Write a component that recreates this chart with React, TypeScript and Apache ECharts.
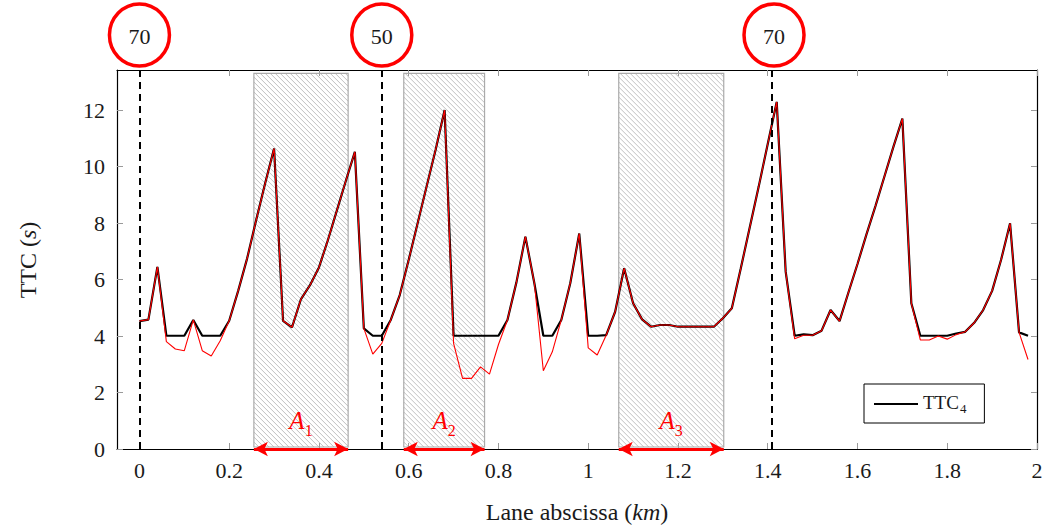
import React, { useEffect, useRef } from "react";
import * as echarts from "echarts";

// Lane abscissa (km) of each sample
const laneKm = [
  0.0, 0.02, 0.04, 0.06, 0.08, 0.1, 0.12, 0.14, 0.16, 0.18,
  0.2, 0.22, 0.24, 0.26, 0.28, 0.3, 0.32, 0.34, 0.36, 0.38,
  0.4, 0.42, 0.44, 0.46, 0.48, 0.5, 0.52, 0.54, 0.56, 0.58,
  0.6, 0.62, 0.64, 0.66, 0.68, 0.7, 0.72, 0.74, 0.76, 0.78,
  0.8, 0.82, 0.84, 0.86, 0.88, 0.9, 0.92, 0.94, 0.96, 0.98,
  1.0, 1.02, 1.04, 1.06, 1.08, 1.1, 1.12, 1.14, 1.16, 1.18,
  1.2, 1.22, 1.24, 1.26, 1.28, 1.3, 1.32, 1.34, 1.36, 1.38,
  1.4, 1.42, 1.44, 1.46, 1.48, 1.5, 1.52, 1.54, 1.56, 1.58,
  1.6, 1.62, 1.64, 1.66, 1.68, 1.7, 1.72, 1.74, 1.76, 1.78,
  1.8, 1.82, 1.84, 1.86, 1.88, 1.9, 1.92, 1.94, 1.96, 1.98,
];

// TTC4 (black)
const ttc4 = [
  4.53, 4.58, 6.45, 4.01, 4.01, 4.01, 4.57, 4.01, 4.01, 4.01,
  4.54, 5.6, 6.75, 8.1, 9.4, 10.64, 4.54, 4.31, 5.31, 5.8,
  6.43, 7.4, 8.45, 9.5, 10.52, 4.27, 4.01, 4.01, 4.57, 5.45,
  6.7, 8.0, 9.3, 10.6, 12.0, 4.01, 4.01, 4.01, 4.01, 4.01,
  4.01, 4.57, 5.9, 7.52, 5.87, 4.01, 4.01, 4.57, 5.87, 7.63,
  4.01, 4.01, 4.03, 4.86, 6.4, 5.16, 4.59, 4.33, 4.39, 4.39,
  4.33, 4.33, 4.33, 4.33, 4.33, 4.63, 4.98, 6.4, 7.85, 9.3,
  10.8, 12.29, 6.28, 4.01, 4.06, 4.03, 4.19, 4.92, 4.53, 5.55,
  6.55, 7.6, 8.6, 9.65, 10.7, 11.7, 5.16, 4.01, 4.01, 4.01,
  4.01, 4.09, 4.15, 4.47, 4.92, 5.6, 6.7, 7.99, 4.13, 4.01,
];

// Raw TTC (red)
const ttcRaw = [
  4.53, 4.58, 6.45, 3.8, 3.54, 3.48, 4.57, 3.48, 3.29, 3.83,
  4.54, 5.6, 6.75, 8.1, 9.4, 10.64, 4.54, 4.31, 5.31, 5.8,
  6.43, 7.4, 8.45, 9.5, 10.52, 4.27, 3.36, 3.74, 4.57, 5.45,
  6.7, 8.0, 9.3, 10.6, 12.0, 3.74, 2.5, 2.5, 2.91, 2.65,
  3.7, 4.57, 5.9, 7.52, 5.87, 2.77, 3.44, 4.57, 5.87, 7.63,
  3.58, 3.33, 4.03, 4.86, 6.4, 5.16, 4.59, 4.33, 4.39, 4.39,
  4.33, 4.33, 4.33, 4.33, 4.33, 4.63, 4.98, 6.4, 7.85, 9.3,
  10.8, 12.29, 6.28, 3.9, 4.03, 4.03, 4.19, 4.92, 4.53, 5.55,
  6.55, 7.6, 8.6, 9.65, 10.7, 11.7, 5.16, 3.86, 3.86, 4.0,
  3.89, 4.05, 4.15, 4.47, 4.92, 5.6, 6.7, 7.99, 4.13, 3.17,
];

// Hatched zones A1..A3
const zoneStartKm = [0.255, 0.589, 1.068];
const zoneEndKm = [0.465, 0.769, 1.302];
const zoneNames = ["A1", "A2", "A3"];
const zoneTopTtc = 13.3;

// Speed limit changes
const speedChangeKm = [0, 0.54, 1.414];
const speedLimits = ["70", "50", "70"];

// Ticks
const xTicks = [0, 0.2, 0.4, 0.6, 0.8, 1, 1.2, 1.4, 1.6, 1.8, 2];
const yTicks = [0, 2, 4, 6, 8, 10, 12];

const SERIF = "Liberation Serif";
const RED = "#ff0000";

export default function App() {
  const ref = useRef<HTMLDivElement>(null);

  useEffect(() => {
    if (!ref.current) return;
    const chart = echarts.init(ref.current, undefined, { renderer: "svg" });

    const axisCommonX = {
      type: "value",
      min: -0.05,
      max: 2,
      axisLine: { show: true, onZero: false, lineStyle: { color: "#000", width: 1.2 } },
      axisTick: { show: true, inside: true, length: 6, customValues: xTicks, lineStyle: { color: "#9a9a9a", width: 1 } },
      splitLine: { show: false },
    };
    const axisCommonY = {
      type: "value",
      min: 0,
      max: 13.42,
      axisLine: { show: true, onZero: false, lineStyle: { color: "#000", width: 1.2 } },
      axisTick: { show: true, inside: true, length: 6, customValues: yTicks, lineStyle: { color: "#9a9a9a", width: 1 } },
      splitLine: { show: false },
    };

    const option: any = {
      animation: false,
      backgroundColor: "#fff",
      textStyle: { fontFamily: SERIF },
      grid: { left: 117, top: 70, width: 920, height: 379, containLabel: false },
      xAxis: [
        {
          ...axisCommonX,
          position: "bottom",
          axisLabel: {
            customValues: xTicks,
            fontFamily: SERIF,
            fontSize: 22,
            color: "#1a1a1a",
            margin: 10,
            formatter: (v: number) => String(Math.round(v * 10) / 10),
          },
        },
        { ...axisCommonX, position: "top", axisLabel: { show: false } },
      ],
      yAxis: [
        {
          ...axisCommonY,
          position: "left",
          axisLabel: {
            customValues: yTicks,
            fontFamily: SERIF,
            fontSize: 22,
            color: "#1a1a1a",
            margin: 12,
          },
        },
        { ...axisCommonY, position: "right", axisLabel: { show: false } },
      ],
      legend: {
        data: ["TTC4"],
        left: 864,
        top: 384,
        orient: "vertical",
        backgroundColor: "#fff",
        borderColor: "#000",
        borderWidth: 1,
        borderRadius: 0,
        padding: [9, 18, 8, 10],
        icon: "rect",
        itemWidth: 44,
        itemHeight: 2,
        itemStyle: { color: "#000" },
        formatter: () => "{t|TTC}{s|4}",
        textStyle: {
          rich: {
            t: { fontFamily: SERIF, fontSize: 19, color: "#1a1a1a", lineHeight: 22, verticalAlign: "bottom", padding: [0, 0, 3, 0] },
            s: { fontFamily: SERIF, fontSize: 13, color: "#1a1a1a", lineHeight: 14, verticalAlign: "bottom", padding: [6, 0, 0, 1] },
          },
        },
      },
      graphic: [
        {
          type: "text",
          x: 577,
          y: 512,
          style: {
            text: "{n|Lane abscissa (}{i|km}{n|)}",
            align: "center",
            verticalAlign: "middle",
            rich: {
              n: { fontFamily: SERIF, fontSize: 24, fill: "#1a1a1a" },
              i: { fontFamily: SERIF, fontSize: 24, fontStyle: "italic", fill: "#1a1a1a" },
            },
          },
        },
        {
          type: "text",
          x: 28,
          y: 260,
          rotation: Math.PI / 2,
          style: {
            text: "{n|TTC (}{i|s}{n|)}",
            align: "center",
            verticalAlign: "middle",
            rich: {
              n: { fontFamily: SERIF, fontSize: 24, fill: "#1a1a1a" },
              i: { fontFamily: SERIF, fontSize: 24, fontStyle: "italic", fill: "#1a1a1a" },
            },
          },
        },
      ],
      series: [
        {
          type: "custom",
          name: "zones",
          z: 1,
          silent: true,
          encode: { x: [0, 1], y: 2 },
          data: zoneStartKm.map((s, i) => [s, zoneEndKm[i], zoneTopTtc]),
          renderItem: (_params: any, api: any) => {
            const p0 = api.coord([api.value(0), api.value(2)]);
            const p1 = api.coord([api.value(1), 0]);
            const L = p0[0], T = p0[1], R = p1[0], B = p1[1] - 2;
            const step = 5;
            const children: any[] = [];
            for (let c = L - B; c <= R - T; c += step) {
              const xs = Math.max(L, T + c);
              const xe = Math.min(R, B + c);
              if (xe > xs) {
                children.push({
                  type: "line",
                  shape: { x1: xs, y1: xs - c, x2: xe, y2: xe - c },
                  style: { stroke: "#b0b0b0", lineWidth: 0.8 },
                });
              }
            }
            children.push({
              type: "rect",
              shape: { x: L, y: T, width: R - L, height: B - T },
              style: { fill: "none", stroke: "#aaaaaa", lineWidth: 1.2 },
            });
            return { type: "group", children };
          },
        },
        {
          type: "line",
          name: "TTC4",
          z: 3,
          data: laneKm.map((x, i) => [x, ttc4[i]]),
          symbol: "none",
          showSymbol: false,
          lineStyle: { color: "#000", width: 2.2 },
          itemStyle: { color: "#000" },
          markLine: {
            silent: true,
            symbol: "none",
            animation: false,
            label: { show: false },
            lineStyle: { color: "#000", width: 2, type: [7, 5] },
            data: speedChangeKm.map((x) => ({ xAxis: x })),
          },
        },
        {
          type: "line",
          name: "TTC raw",
          z: 4,
          data: laneKm.map((x, i) => [x, ttcRaw[i]]),
          symbol: "none",
          showSymbol: false,
          lineStyle: { color: RED, width: 1.1 },
          itemStyle: { color: RED },
          markLine: {
            silent: true,
            animation: false,
            symbol: ["arrow", "arrow"],
            symbolSize: [11, 14],
            lineStyle: { color: RED, width: 3, type: "solid" },
            label: {
              show: true,
              position: "middle",
              distance: 11,
              formatter: (p: any) => "{a|" + p.name.charAt(0) + "}{s|" + p.name.slice(1) + "}",
              rich: {
                a: { fontFamily: SERIF, fontSize: 25, fontStyle: "italic", color: RED, lineHeight: 26, verticalAlign: "bottom", padding: [0, 0, 5, 0] },
                s: { fontFamily: SERIF, fontSize: 16, color: RED, lineHeight: 16, verticalAlign: "bottom", padding: [0, 0, 0, 0] },
              },
            },
            data: zoneStartKm.map((s, i) => [
              { name: zoneNames[i], coord: [s, 0] },
              { coord: [zoneEndKm[i], 0] },
            ]),
          },
        },
        {
          type: "custom",
          name: "limits",
          z: 5,
          silent: true,
          clip: false,
          encode: { x: 0, y: 1 },
          data: speedChangeKm.map((x) => [x, 0]),
          renderItem: (params: any, api: any) => {
            const p = api.coord([api.value(0), 0]);
            const top = params.coordSys.y;
            const cy = top - 35;
            return {
              type: "group",
              children: [
                {
                  type: "ellipse",
                  shape: { cx: p[0], cy, rx: 30, ry: 31 },
                  style: { fill: "#fff", stroke: RED, lineWidth: 3.5 },
                },
                {
                  type: "text",
                  style: {
                    text: speedLimits[params.dataIndex],
                    x: p[0],
                    y: cy + 1,
                    align: "center",
                    verticalAlign: "middle",
                    fontFamily: SERIF,
                    fontSize: 22,
                    fill: "#1a1a1a",
                  },
                },
              ],
            };
          },
        },
      ],
    };

    chart.setOption(option);
    return () => chart.dispose();
  }, []);

  return (
    <div
      ref={ref}
      style={{ position: "absolute", left: 0, top: 0, width: 1046, height: 529 }}
    />
  );
}
